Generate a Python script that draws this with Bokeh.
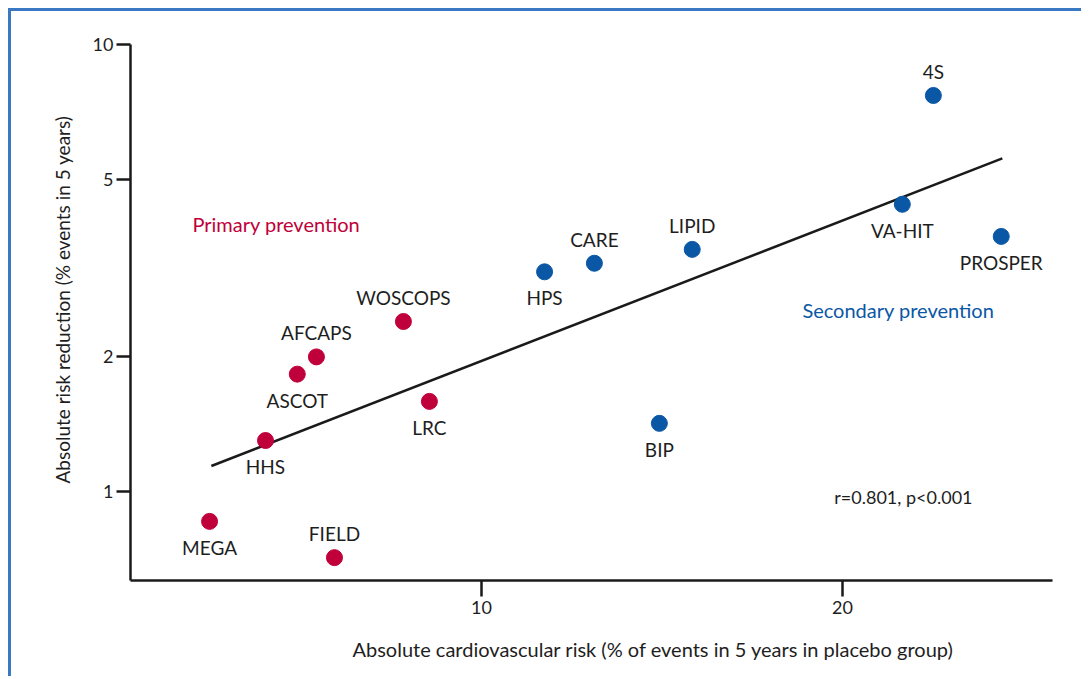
from bokeh.plotting import figure
from bokeh.models import ColumnDataSource, FixedTicker, Range1d, Label, Title
from bokeh.core.properties import value
from bokeh.embed import file_html
from bokeh.resources import INLINE

# ---- data ----
trials = ["MEGA", "FIELD", "HHS", "ASCOT", "AFCAPS", "WOSCOPS", "LRC",
          "HPS", "CARE", "LIPID", "BIP", "4S", "VA-HIT", "PROSPER"]
risk = [2.47, 5.93, 4.02, 4.90, 5.43, 7.84, 8.56,
        11.75, 13.13, 15.84, 14.93, 22.52, 21.66, 24.40]
reduction = [0.857, 0.711, 1.30, 1.83, 2.00, 2.40, 1.59,
             3.10, 3.24, 3.48, 1.42, 7.69, 4.39, 3.72]
group = ["primary"] * 7 + ["secondary"] * 7
label_side = ["below", "above", "below", "below", "above", "above", "below",
              "below", "above", "above", "below", "above", "below", "below"]
fit_x = [2.52, 24.43]
fit_y = [1.14, 5.56]
x_ticks = [10, 20]
y_ticks = [1, 2, 5, 10]
x_title = "Absolute cardiovascular risk (% of events in 5 years in placebo group)"
y_title = "Absolute risk reduction (% events in 5 years)"

RED = "#c0003a"
BLUE = "#0a57a6"
INK = "#1e1e1e"
FONT = "Lato"

colors = [RED if g == "primary" else BLUE for g in group]
offsets = [26 if s == "below" else -24 for s in label_side]

src = ColumnDataSource(dict(x=risk, y=reduction, name=trials, color=colors, off=offsets))

p = figure(width=1073, height=668, output_backend="svg", toolbar_location=None,
           y_axis_type="log",
           x_range=Range1d(0.28, 25.82), y_range=Range1d(0.632, 10.0),
           min_border_left=119, min_border_right=32, min_border_top=33, min_border_bottom=99)
p.styles = {"border-top": "3px solid #3b78c4", "border-left": "3px solid #3b78c4",
            "margin-left": "8px", "margin-top": "8px"}
p.outline_line_color = None
p.xgrid.visible = False
p.ygrid.visible = False
p.background_fill_color = "white"
p.border_fill_color = "white"

p.line(fit_x, fit_y, line_color="#1a1a1a", line_width=2.5)
p.scatter("x", "y", source=src, size=16, fill_color="color", line_color="color")
p.text("x", "y", text="name", source=src, y_offset="off",
       text_align="center", text_baseline="middle",
       text_font=value(FONT), text_font_size="19px", text_color=INK)

p.add_layout(Label(x=4.32, y=3.96, text="Primary prevention", text_align="center",
                   text_baseline="middle", text_font=FONT, text_font_size="20px",
                   text_color=RED))
p.add_layout(Label(x=21.55, y=2.55, text="Secondary prevention", text_align="center",
                   text_baseline="middle", text_font=FONT, text_font_size="20px",
                   text_color=BLUE))
p.add_layout(Label(x=21.69, y=0.974, text="r=0.801, p<0.001", text_align="center",
                   text_baseline="middle", text_font=FONT, text_font_size="18px",
                   text_color=INK))

# axis titles as panel titles, placed slightly off-centre as in the reference
p.add_layout(Title(text=x_title, align="left", offset=222, standoff=37,
                   text_font=FONT, text_font_size="20px", text_font_style="normal",
                   text_color=INK), "below")
p.add_layout(Title(text=y_title, align="left", offset=97, standoff=32,
                   text_font=FONT, text_font_size="19px", text_font_style="normal",
                   text_color=INK), "left")

for ax in (p.xaxis[0], p.yaxis[0]):
    ax.axis_line_color = "#1a1a1a"
    ax.axis_line_width = 2.5
    ax.major_tick_line_color = "#1a1a1a"
    ax.major_tick_line_width = 2.5
    ax.major_tick_in = 0
    ax.minor_tick_line_color = None
    ax.major_label_text_font = FONT
    ax.major_label_text_font_size = "18px"
    ax.major_label_text_color = INK

p.xaxis.ticker = FixedTicker(ticks=x_ticks)
p.xaxis.major_tick_out = 16
p.xaxis.major_label_standoff = 4

p.yaxis.ticker = FixedTicker(ticks=y_ticks)
p.yaxis.major_label_overrides = {t: str(t) for t in y_ticks}
p.yaxis.major_tick_out = 14
p.yaxis.major_label_standoff = 3

open("out.html", "w").write(file_html(p, INLINE))
